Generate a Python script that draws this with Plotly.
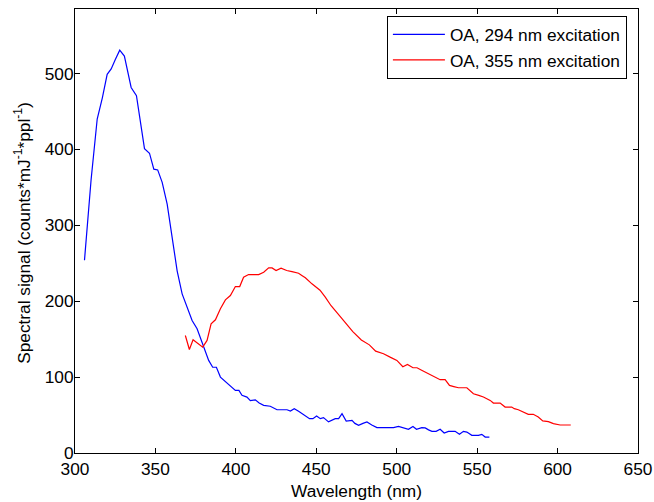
import plotly.graph_objects as go

# OA, 294 nm excitation (blue)
wl_294 = [305.9, 306.5, 310.0, 313.8, 317.0, 320.0, 322.5, 325.0, 327.8, 330.7, 332.8, 334.9, 338.2,
          340.5, 343.2, 346.3, 349.0, 351.4, 354.2, 357.3, 361.4, 363.5, 366.6, 369.5, 372.8, 375.9,
          378.0, 380.0, 383.1, 385.6, 387.9, 390.4, 393.0, 396.6, 399.7, 401.9, 403.8, 406.9, 409.0,
          412.1, 414.5, 417.3, 421.4, 425.6, 427.6, 431.8, 433.9, 436.3, 439.0, 441.1, 443.5, 445.8,
          447.9, 450.2, 452.5, 454.5, 457.6, 459.5, 461.8, 463.9, 466.0, 468.6, 472.2, 474.0, 476.3,
          479.0, 481.5, 484.5, 487.7, 492.0, 495.0, 498.0, 501.1, 504.0, 507.3, 510.1, 512.3, 515.6,
          517.7, 519.8, 521.9, 524.5, 527.0, 529.5, 532.2, 534.0, 536.3, 539.0, 541.5, 543.6, 546.7,
          550.8, 552.9, 555.0, 557.6]
sig_294 = [254.0, 269.0, 360.0, 440.0, 468.0, 499.0, 506.0, 518.0, 530.8, 523.0, 503.0, 481.6, 470.7,
           440.0, 401.0, 395.0, 374.0, 373.0, 356.6, 328.0, 269.0, 240.0, 209.7, 192.0, 174.6, 163.7,
           152.0, 141.7, 122.0, 113.0, 113.0, 100.0, 95.0, 89.0, 82.5, 82.5, 76.0, 73.7, 69.0,
           70.0, 66.0, 62.8, 61.6, 57.0, 57.0, 57.0, 55.3, 58.4, 55.0, 51.8, 48.0, 45.2,
           45.2, 48.7, 45.2, 46.6, 41.0, 43.0, 45.2, 45.2, 51.8, 42.0, 43.0, 39.0, 36.4,
           39.0, 40.8, 37.0, 33.4, 33.4, 33.4, 33.4, 35.0, 33.0, 31.2, 35.0, 31.2, 33.4,
           33.0, 30.5, 28.5, 28.5, 31.2, 26.3, 28.5, 28.5, 28.5, 24.6, 28.5, 27.6, 23.3,
           23.3, 24.6, 21.0, 21.0]

# OA, 355 nm excitation (red)
wl_355 = [368.6, 371.1, 373.4, 375.9, 379.4, 382.1, 384.6, 387.3, 390.4, 393.5, 396.6, 399.7, 402.4,
          404.8, 407.9, 411.0, 414.2, 417.3, 420.4, 422.5, 425.0, 428.1, 431.6, 434.9, 439.0, 441.0,
          443.2, 447.3, 452.3, 455.6, 459.2, 464.8, 469.0, 472.7, 478.0, 483.0, 486.9, 491.8, 496.2,
          500.1, 503.8, 506.7, 510.1, 512.6, 515.5, 518.8, 521.5, 524.0, 527.0, 530.1, 532.8, 535.5,
          538.4, 543.6, 547.7, 551.0, 553.9, 558.1, 560.1, 564.3, 567.4, 571.5, 573.1, 575.6, 578.7,
          581.8, 584.9, 588.0, 590.8, 594.3, 597.4, 601.6, 605.0, 608.2]
sig_355 = [154.8, 136.4, 149.2, 144.8, 139.5, 148.3, 170.3, 175.5, 190.0, 201.8, 207.5, 219.3, 219.3,
           231.6, 235.1, 235.1, 235.1, 238.2, 243.9, 243.9, 240.4, 243.6, 240.4, 239.0, 236.8, 234.0,
           230.8, 222.9, 214.5, 205.3, 194.0, 180.0, 169.3, 160.0, 149.0, 142.5, 134.2, 130.8, 126.0,
           122.0, 113.6, 116.7, 112.3, 112.3, 109.0, 105.3, 102.5, 100.0, 96.6, 96.6, 89.0, 87.5,
           86.0, 86.0, 78.0, 76.0, 73.7, 69.3, 65.8, 65.8, 60.5, 60.5, 58.4, 57.0, 54.0,
           51.0, 51.0, 47.4, 42.2, 41.3, 38.7, 36.9, 36.9, 36.9]

x_ticks = [300, 350, 400, 450, 500, 550, 600, 650]
y_ticks = [0, 100, 200, 300, 400, 500]

FONT = "Liberation Sans, Arial, sans-serif"
FS = 17.3

fig = go.Figure()
fig.add_trace(go.Scatter(x=wl_294, y=sig_294, mode="lines", name="OA, 294 nm excitation",
                         line=dict(color="rgb(0,0,255)", width=1.2)))
fig.add_trace(go.Scatter(x=wl_355, y=sig_355, mode="lines", name="OA, 355 nm excitation",
                         line=dict(color="rgb(255,0,0)", width=1.2)))

axis_common = dict(showline=True, linecolor="black", linewidth=1, mirror="ticks",
                   ticks="inside", ticklen=5, tickcolor="black", tickwidth=1,
                   showgrid=False, zeroline=False,
                   tickfont=dict(family=FONT, size=FS, color="black"))

fig.update_xaxes(range=[300, 650], tickvals=x_ticks, ticktext=[str(v) for v in x_ticks], **axis_common)
fig.update_yaxes(range=[0, 585], tickvals=y_ticks, ticktext=[str(v) for v in y_ticks],
                 ticklabelstandoff=-3, **axis_common)

fig.update_layout(
    width=654, height=502,
    margin=dict(l=74.5, r=16, t=8.5, b=49.3, autoexpand=False),
    paper_bgcolor="white", plot_bgcolor="white",
    font=dict(family=FONT, size=FS, color="black"),
    showlegend=True,
    legend=dict(x=0.554, y=0.985, xanchor="left", yanchor="top",
                bordercolor="black", borderwidth=1, bgcolor="white",
                font=dict(family=FONT, size=FS, color="black"),
                tracegroupgap=0, itemwidth=52),
    annotations=[
        dict(text="Spectral signal (counts*mJ<sup>-1</sup>*ppl<sup>-1</sup>)",
             xref="paper", yref="paper", x=-0.093, y=0.495, textangle=-90,
             showarrow=False, xanchor="center", yanchor="middle",
             font=dict(family=FONT, size=FS, color="black")),
        dict(text="Wavelength (nm)", xref="paper", yref="paper", x=0.5, y=-0.086,
             showarrow=False, xanchor="center", yanchor="middle",
             font=dict(family=FONT, size=FS, color="black")),
    ],
)

fig.write_html("out.html")
